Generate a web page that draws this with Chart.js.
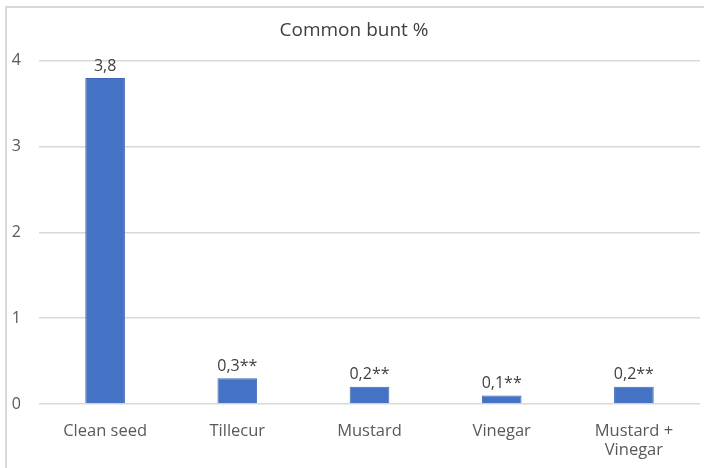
<!DOCTYPE html>
<html>
<head>
<meta charset="utf-8">
<script src="https://cdn.jsdelivr.net/npm/chart.js@4/dist/chart.umd.min.js"></script>
<style>
  html, body { margin: 0; padding: 0; background: #fff; }
  #wrap { position: relative; width: 704px; height: 468px; }
  #frame { position: absolute; left: 5px; top: 6px; right: -2px; bottom: -2px;
           border-left: 2px solid #d9d9d9; border-top: 2px solid #d9d9d9; pointer-events: none; }
  canvas { position: absolute; left: 0; top: 0; }
</style>
</head>
<body>
<div id="wrap">
  <canvas id="c" width="704" height="468"></canvas>
  <div id="frame"></div>
</div>
<script>
const categories = ['Clean seed', 'Tillecur', 'Mustard', 'Vinegar', ['Mustard +', 'Vinegar']];
const buntValues = [3.8, 0.3, 0.2, 0.1, 0.2];
const significance = ['', '**', '**', '**', '**'];
const yTicks = [0, 1, 2, 3, 4];

const textColor = '#595959';
const fontFamily = "'Open Sans', 'Noto Sans', sans-serif";

// writes each bar's value (decimal comma) plus its significance stars above the bar
const valueLabels = {
  id: 'valueLabels',
  afterDatasetsDraw(chart) {
    const ctx = chart.ctx;
    const meta = chart.getDatasetMeta(0);
    ctx.save();
    ctx.font = '16px ' + fontFamily;
    ctx.fillStyle = '#404040';
    ctx.textAlign = 'center';
    ctx.textBaseline = 'bottom';
    meta.data.forEach((bar, i) => {
      const txt = buntValues[i].toFixed(1).replace('.', ',') + significance[i];
      ctx.fillText(txt, bar.x, bar.y - 4);
    });
    ctx.restore();
  }
};

new Chart(document.getElementById('c'), {
  type: 'bar',
  data: {
    labels: categories,
    datasets: [{
      data: buntValues,
      backgroundColor: '#4472C4',
      borderColor: '#3E68B5',
      borderWidth: 1,
      barPercentage: 0.3,
      categoryPercentage: 1.0
    }]
  },
  options: {
    responsive: false,
    animation: false,
    layout: { padding: { left: 8, right: 4, top: 19, bottom: 0 } },
    plugins: {
      legend: { display: false },
      tooltip: { enabled: false },
      title: {
        display: true,
        text: 'Common bunt %',
        color: '#404040',
        font: { family: fontFamily, size: 19, weight: 'normal' },
        padding: { top: 0, bottom: 19 }
      }
    },
    scales: {
      x: {
        grid: { display: false },
        border: { display: false },
        ticks: {
          color: textColor,
          font: { family: fontFamily, size: 16.5 },
          maxRotation: 0,
          padding: 9
        },
        afterFit(scale) { scale.height = 64; }
      },
      y: {
        min: 0,
        max: 4,
        afterBuildTicks(scale) { scale.ticks = yTicks.map(v => ({ value: v })); },
        grid: { color: '#d9d9d9', lineWidth: 1.5, drawTicks: false },
        border: { display: false },
        ticks: {
          color: textColor,
          font: { family: fontFamily, size: 16 },
          padding: 18
        },
        afterFit(scale) { scale.width = 31; }
      }
    }
  },
  plugins: [valueLabels]
});
</script>
</body>
</html>
